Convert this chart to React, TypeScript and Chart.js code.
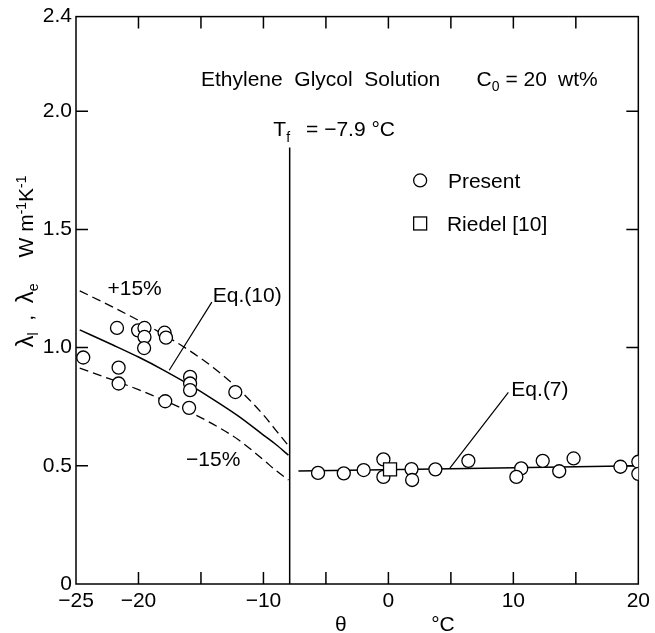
import React, { useEffect, useRef } from 'react';
import { Chart, registerables } from 'chart.js';

Chart.register(...registerables);

// ---- Data (theta in °C, lambda in W m-1 K-1) ----
const presentT = [
  -24.42, -21.72, -21.59, -21.59, -20.03, -19.52, -19.52, -19.55, -17.91, -17.8, -17.86,
  -15.87, -15.87, -15.87, -15.95, -12.25,
  -5.63, -3.57, -1.98, -0.4, -0.4, 1.85, 1.9, 3.76, 6.4, 10.63, 10.24, 12.35, 13.67, 14.82,
  18.57, 20, 20,
];
const presentV = [
  0.958, 1.083, 0.915, 0.848, 1.073, 1.083, 1.045, 0.998, 1.063, 1.042, 0.773,
  0.876, 0.848, 0.82, 0.745, 0.812,
  0.47, 0.468, 0.482, 0.527, 0.453, 0.486, 0.44, 0.485, 0.521, 0.489, 0.453, 0.521, 0.477, 0.531,
  0.496, 0.517, 0.466,
];
const riedelT = [0.13];
const riedelV = [0.485];

const eq10T = [-24.7, -22, -20, -18, -16, -14, -12, -10, -9, -8.0];
const eq10V = [1.075, 1.01, 0.96, 0.905, 0.845, 0.78, 0.71, 0.63, 0.59, 0.545];
const plus15V = [1.24, 1.17, 1.115, 1.055, 0.99, 0.915, 0.825, 0.715, 0.65, 0.585];
const minus15V = [0.913, 0.862, 0.822, 0.778, 0.73, 0.675, 0.61, 0.525, 0.48, 0.44];

const eq7T = [-7.2, 20];
const eq7V = [0.478, 0.5];

const tfT = [-7.9, -7.9];
const tfV = [1.846, 0];

const xTickValues = [-25, -20, -10, 0, 10, 20];
const xTickLabels = ['\u221225', '\u221220', '\u221210', '0', '10', '20'];
const xInnerTicks = [-20, -15, -10, -5, 0, 5, 10, 15];
const yTickValues = [0, 0.5, 1.0, 1.5, 2.0, 2.4];
const yTickLabels = ['0', '0.5', '1.0', '1.5', '2.0', '2.4'];
const yInnerTicks = [0.5, 1.0, 1.5, 2.0];

const FONT = '"Liberation Sans", Arial, sans-serif';
const FS = 21;

const pts = (xs: number[], ys: number[]) => xs.map((x, i) => ({ x, y: ys[i] }));

type Part = { t: string; s?: number; dy?: number };
function drawRich(ctx: CanvasRenderingContext2D, x: number, y: number, parts: Part[]) {
  let cx = x;
  for (const p of parts) {
    const fs = p.s ?? FS;
    ctx.font = `${fs}px ${FONT}`;
    ctx.fillText(p.t, cx, y + (p.dy ?? 0));
    cx += ctx.measureText(p.t).width;
  }
}

const decor = {
  id: 'decor',
  beforeDatasetsDraw(chart: any) {
    const { ctx, chartArea: a, scales } = chart;
    const x = scales.x, y = scales.y;
    ctx.save();
    ctx.strokeStyle = '#000';
    ctx.lineWidth = 1.5;
    ctx.strokeRect(a.left, a.top, a.right - a.left, a.bottom - a.top);
    ctx.beginPath();
    for (const v of xInnerTicks) {
      const px = x.getPixelForValue(v);
      ctx.moveTo(px, a.bottom); ctx.lineTo(px, a.bottom - 12);
      ctx.moveTo(px, a.top); ctx.lineTo(px, a.top + 12);
    }
    for (const v of yInnerTicks) {
      const py = y.getPixelForValue(v);
      ctx.moveTo(a.left, py); ctx.lineTo(a.left + 12, py);
      ctx.moveTo(a.right, py); ctx.lineTo(a.right - 12, py);
    }
    ctx.stroke();
    ctx.restore();
  },
  afterDatasetsDraw(chart: any) {
    const { ctx, chartArea: a, scales } = chart;
    const X = (t: number) => scales.x.getPixelForValue(t);
    const Y = (v: number) => scales.y.getPixelForValue(v);
    ctx.save();
    ctx.fillStyle = '#000';
    ctx.strokeStyle = '#000';
    ctx.textAlign = 'left';
    ctx.textBaseline = 'alphabetic';
    const B = 7.5; // baseline offset from visual centre

    // Title lines
    drawRich(ctx, X(-15.0), Y(2.138) + B, [{ t: 'Ethylene  Glycol  Solution' }]);
    drawRich(ctx, X(7.06), Y(2.138) + B, [{ t: 'C' }, { t: '0', s: 14, dy: 5 }, { t: ' = 20' }]);
    drawRich(ctx, X(13.57), Y(2.138) + B, [{ t: 'wt%' }]);
    // Tf
    drawRich(ctx, X(-9.21), Y(1.927) + B, [{ t: 'T' }, { t: 'f', s: 14, dy: 6 }]);
    drawRich(ctx, X(-6.59), Y(1.927) + B, [{ t: '= \u22127.9 \u00b0C' }]);

    // Legend
    ctx.lineWidth = 1.3;
    ctx.fillStyle = '#fff';
    ctx.beginPath();
    ctx.arc(X(2.54), Y(1.707), 6.5, 0, Math.PI * 2);
    ctx.fill(); ctx.stroke();
    ctx.fillRect(X(2.54) - 6.5, Y(1.525) - 6.5, 13, 13);
    ctx.strokeRect(X(2.54) - 6.5, Y(1.525) - 6.5, 13, 13);
    ctx.fillStyle = '#000';
    drawRich(ctx, X(4.76), Y(1.707) + B, [{ t: 'Present' }]);
    drawRich(ctx, X(4.68), Y(1.525) + B, [{ t: 'Riedel [10]' }]);

    // Curve labels
    drawRich(ctx, X(-20.48) - 25, Y(1.255) + B, [{ t: '+15%' }]);
    drawRich(ctx, X(-14.05), Y(1.225) + B, [{ t: 'Eq.(10)' }]);
    drawRich(ctx, X(-16.19), Y(0.532) + B, [{ t: '\u221215%' }]);
    drawRich(ctx, X(9.84), Y(0.828) + B, [{ t: 'Eq.(7)' }]);

    ctx.lineWidth = 1.2;
    ctx.beginPath();
    ctx.moveTo(X(-14.13), Y(1.192)); ctx.lineTo(X(-17.54), Y(0.904));
    ctx.moveTo(X(9.6), Y(0.811)); ctx.lineTo(X(4.92), Y(0.49));
    ctx.stroke();

    // x-axis title
    ctx.textAlign = 'center';
    drawRich(ctx, X(-3.81), a.bottom + 39 + B, [{ t: '\u03b8' }]);
    drawRich(ctx, X(4.37), a.bottom + 39 + B, [{ t: '\u00b0C' }]);
    ctx.textAlign = 'left';

    // y-axis title (rotated)
    ctx.save();
    ctx.translate(33, Y(1.0));
    ctx.rotate(-Math.PI / 2);
    drawRich(ctx, 0, 0, [
      { t: '\u03bb', s: 24 }, { t: 'l', s: 14, dy: 5 }, { t: '  ,  ' },
      { t: '\u03bb', s: 24 }, { t: 'e', s: 14, dy: 5 },
    ]);
    ctx.restore();
    ctx.save();
    ctx.translate(33, Y(1.381));
    ctx.rotate(-Math.PI / 2);
    drawRich(ctx, 0, 0, [
      { t: 'W m' }, { t: '-1', s: 14, dy: -7 }, { t: 'K' }, { t: '-1', s: 14, dy: -7 },
    ]);
    ctx.restore();

    ctx.restore();
  },
};

const lineDs = (label: string, xs: number[], ys: number[], dash: number[] = [], w = 1.5) => ({
  label,
  data: pts(xs, ys),
  showLine: true,
  pointRadius: 0,
  borderColor: '#000',
  borderWidth: w,
  borderDash: dash,
  fill: false,
  cubicInterpolationMode: 'monotone' as const,
});

export default function App() {
  const ref = useRef<HTMLCanvasElement>(null);
  useEffect(() => {
    document.body.style.margin = '0';
    const chart = new Chart(ref.current as HTMLCanvasElement, {
      type: 'scatter',
      data: {
        datasets: [
          {
            label: 'Riedel [10]',
            data: pts(riedelT, riedelV),
            pointStyle: 'rect',
            pointRadius: 9.2,
            borderColor: '#000',
            backgroundColor: '#fff',
            borderWidth: 1.3,
          },
          {
            label: 'Present',
            data: pts(presentT, presentV),
            pointStyle: 'circle',
            pointRadius: 6.5,
            borderColor: '#000',
            backgroundColor: '#fff',
            borderWidth: 1.3,
          },
          lineDs('Eq.(7)', eq7T, eq7V),
          lineDs('Eq.(10)', eq10T, eq10V),
          lineDs('+15%', eq10T, plus15V, [9, 5], 1.3),
          lineDs('-15%', eq10T, minus15V, [9, 5], 1.3),
          lineDs('Tf', tfT, tfV, [], 1.5),
        ] as any,
      },
      options: {
        responsive: false,
        animation: false,
        events: [],
        layout: { padding: { left: 0, top: 16, right: 12, bottom: 0 } },
        plugins: { legend: { display: false }, tooltip: { enabled: false } },
        scales: {
          x: {
            type: 'linear',
            min: -25,
            max: 20,
            grid: { display: false, drawTicks: false },
            border: { display: false },
            afterBuildTicks: (s: any) => { s.ticks = xTickValues.map((v) => ({ value: v })); },
            afterFit: (s: any) => { s.height = 49; },
            ticks: {
              autoSkip: false,
              maxRotation: 0,
              padding: 5,
              color: '#000',
              font: { family: FONT, size: FS },
              callback: (_v: any, i: number) => xTickLabels[i],
            },
          },
          y: {
            type: 'linear',
            min: 0,
            max: 2.4,
            grid: { display: false, drawTicks: false },
            border: { display: false },
            afterBuildTicks: (s: any) => { s.ticks = yTickValues.map((v) => ({ value: v })); },
            afterFit: (s: any) => { s.width = 76; },
            ticks: {
              autoSkip: false,
              padding: 4,
              color: '#000',
              font: { family: FONT, size: FS },
              callback: (_v: any, i: number) => yTickLabels[i],
            },
          },
        },
      } as any,
      plugins: [decor],
    });
    return () => chart.destroy();
  }, []);
  return <canvas ref={ref} width={655} height={633} style={{ display: 'block' }} />;
}
